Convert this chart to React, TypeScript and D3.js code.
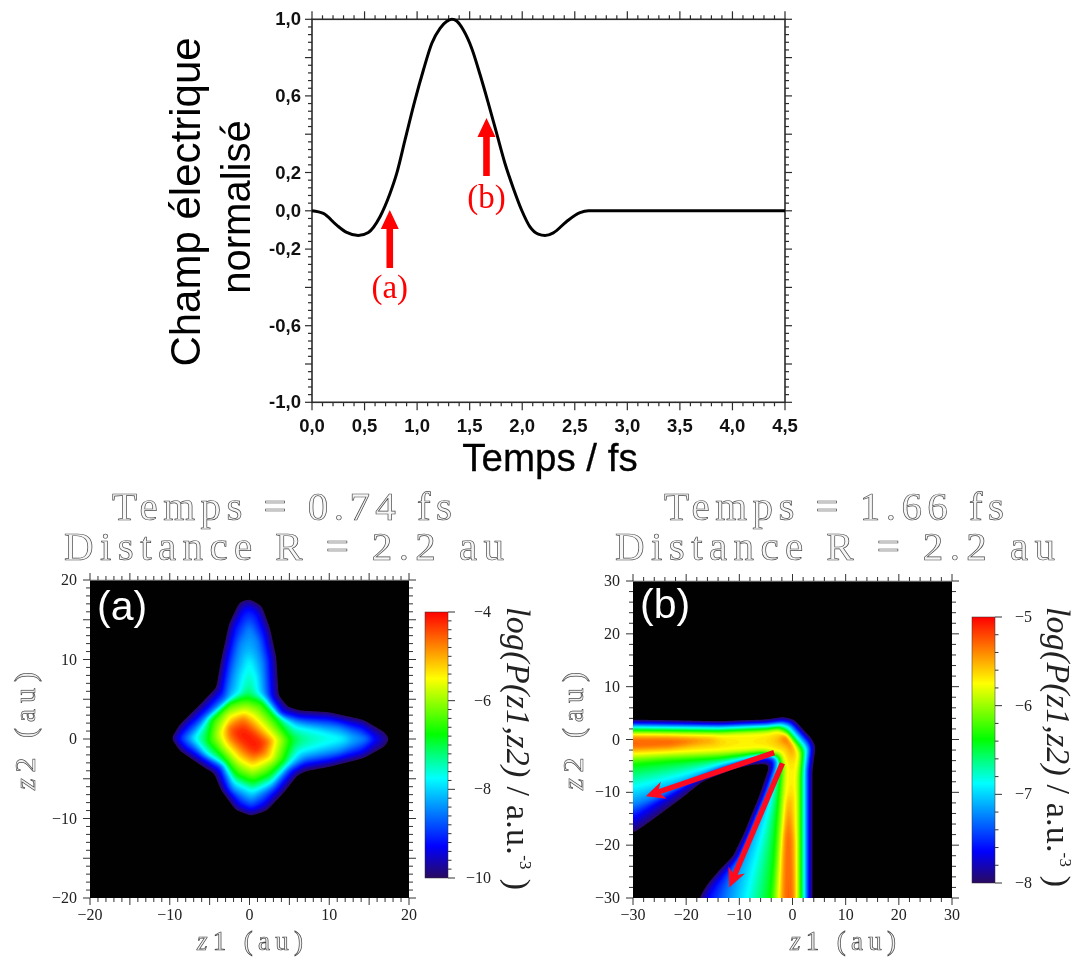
import React, { useMemo } from "react";
import * as d3 from "d3";

type P = [number, number];

// Top chart: normalised electric field
const pulseTime = [0, .108, .235, .33, .44, .536, .647, .742, .806, .885, .98, 1.06, 1.14, 1.218, 1.28, 1.33, 1.376, 1.44, 1.52, 1.6, 1.678, 1.757, 1.836, 1.916, 1.995, 2.074, 2.153, 2.217, 2.296, 2.42, 2.55, 2.63, 4.5];
const pulseField = [0, -.014, -.075, -.113, -.129, -.113, -.031, .09, .195, .37, .578, .735, .875, .953, .988, 1, .991, .944, .848, .709, .561, .404, .247, .117, .003, -.084, -.122, -.129, -.115, -.057, -.01, 0, 0];
const pulseXLabels = ["0,0", "0,5", "1,0", "1,5", "2,0", "2,5", "3,0", "3,5", "4,0", "4,5"];
const pulseYLabels: [number, string][] = [[1, "1,0"], [.6, "0,6"], [.2, "0,2"], [0, "0,0"], [-.2, "-0,2"], [-.6, "-0,6"], [-1, "-1,0"]];
const markerTimes = [0.74, 1.66];

// Colour map, from the colour bars (0 = bottom, 1 = top)
const cmapStops = [0, .12, .25, .375, .46, .54, .75, .875, 1];
const cmapColors = ["#2a0a60", "#0000ff", "#0080ff", "#00ffff", "#00ff80", "#00ff00", "#ffff00", "#ff8000", "#ff0000"];

// Panel (a): iso-lines of the map, in au
const levelsA = [0, .12, .25, .375, .54, .75, .875, .95];
const peakA = .975;
const isoA0: P[] = [[0, 17.6], [1.5, 16.75], [2.5, 14], [3.3, 10.3], [3.6, 5.5], [4.8, 4], [6.25, 3.55], [10, 3.3], [14.2, 2.4], [16.9, .9], [17.6, 0], [16.9, -1], [14.2, -2.4], [10, -3.45], [7.1, -4], [6, -4.5], [4.2, -6.8], [2.1, -9], [.2, -9.6], [-1.7, -8.9], [-3.5, -6.4], [-4.4, -4.3], [-5.8, -3.45], [-8.75, -1.4], [-9.7, .1], [-8.75, 1.75], [-6.25, 4.25], [-4.1, 6.5], [-3.5, 9.9], [-2.5, 14.5], [-1.25, 17.2]];
const isoA1: P[] = [[0, 16.5], [1, 15.7], [1.9, 13.2], [2.6, 9.9], [2.8, 5.3], [4.2, 3.4], [6.25, 2.8], [10, 2.6], [14.2, 1.5], [16, 0], [14.2, -1.6], [10, -2.7], [6.7, -3.25], [5.4, -4.1], [3.5, -6.4], [1.7, -8.25], [.2, -8.9], [-1.25, -8.25], [-2.9, -6.2], [-3.75, -3.9], [-5.4, -2.8], [-8.1, -1], [-9, .1], [-7.9, 1.5], [-5.6, 3.6], [-3.5, 5.9], [-2.9, 9.5], [-1.9, 14], [-.8, 16.1]];
const isoA2: P[] = [[0, 14], [1, 12.4], [1.7, 9.5], [2, 5.7], [3.75, 2.8], [7.1, 2], [11.25, 1.5], [14.6, 0], [11.25, -1.6], [7.1, -2.4], [4.8, -3.7], [2.9, -6], [.2, -7.8], [-2.1, -6.4], [-3.5, -3.25], [-5.8, -2], [-7.9, .1], [-5.4, 2.8], [-2.9, 5.1], [-2.1, 8.6], [-1.25, 12]];
const isoA3: P[] = [[0, 9.7], [.8, 7.8], [1, 5.9], [3.3, 3.4], [5.8, 1.5], [8.75, .9], [11.7, 0], [8.75, -.9], [6.25, -1.6], [4.6, -3.5], [2.7, -5.5], [.4, -6.6], [-1.9, -5.5], [-3.1, -3.25], [-5.2, -2], [-6.9, .1], [-5.2, 2.6], [-2.9, 4.5], [-1.2, 5.9], [-.8, 7.8]];
const isoA4: P[] = [[-.4, 5.2], [1.5, 4.7], [3.3, 2.6], [5.2, -.1], [4.4, -2.6], [2.5, -4.5], [.4, -5.4], [-1.7, -4.5], [-3.3, -2.4], [-5.2, -.3], [-4.8, 2.4], [-2.5, 4.7]];
const isoA5: P[] = [[-.6, 3.4], [.6, 2.8], [3.3, -.1], [2.7, -2.4], [.4, -3.5], [-1.25, -2.6], [-2.9, -.75], [-3.5, .7], [-2.5, 2.8]];
const isoA6: P[] = [[-.8, 2.6], [.2, 1.75], [2.5, -.3], [1.9, -1.8], [.4, -2.4], [-.8, -1.6], [-2.5, .1], [-2.7, 1.5]];
const isoA7: P[] = [[-.8, 1.5], [.4, .7], [1.7, -.5], [1, -1.6], [.2, -1.4], [-1.25, -.1], [-1.9, .9]];

// Panel (b): iso-lines (the arms run on past the frame)
const levelsB = [0, .12, .25, .375, .54, .75, .84];
const peakB = .915;
const isoB0: P[] = [[-60, 3.5], [-30, 3.5], [-13.6, 3.1], [-4.8, 3.5], [-1.7, 4], [.2, 3.6], [3.6, -.2], [4.1, -1.4], [3.5, -5.8], [3.5, -30], [3.5, -60], [-36, -60], [-17.5, -30], [-16, -27.5], [-13.6, -24.7], [-11.1, -22.2], [-8.9, -17.8], [-6.1, -10.9], [-4.2, -5.2], [-4.5, -4.5], [-7.4, -4.5], [-11.1, -5.3], [-16.8, -7.7], [-20.6, -10.9], [-25.6, -14.7], [-28.1, -16.5], [-30, -17.8], [-60, -36]];
const isoB1: P[] = [[-60, 3.1], [-30, 3.1], [-13.6, 2.9], [-4.8, 3.2], [-1.8, 3.6], [-.1, 3.1], [3.1, -.3], [3.6, -1.6], [3.1, -5.8], [3.1, -30], [3.1, -60], [-34, -60], [-16, -30], [-14.6, -27.5], [-12.4, -24.7], [-10.2, -22.2], [-8.3, -17.8], [-5.5, -10.9], [-3.7, -5.8], [-3.6, -4.3], [-4.8, -3.8], [-7.4, -4], [-11.1, -4.9], [-16.8, -6.8], [-20.6, -9], [-25.6, -12.1], [-28.1, -13.7], [-30, -15], [-60, -30]];
const isoB2: P[] = [[-60, 2.7], [-30, 2.8], [-13.6, 2.6], [-4.8, 2.9], [-2, 3.2], [-.4, 2.8], [2.6, -.6], [3.1, -1.7], [2.6, -5.8], [2.6, -30], [2.6, -60], [-28, -60], [-12.4, -30], [-11.1, -24.7], [-9.2, -20.3], [-7, -14.7], [-4.8, -9.6], [-3.3, -5.2], [-3.1, -3.6], [-4.5, -3], [-7.4, -3.5], [-13.6, -5.5], [-19.9, -8.4], [-25.6, -10.9], [-30, -12.5], [-60, -25]];
const isoB3: P[] = [[-60, 2.3], [-30, 2.3], [-13.6, 2.1], [-4.8, 2.5], [-2.2, 2.8], [-.8, 2.3], [2.1, -1.1], [2.6, -1.9], [2.2, -5.8], [2.2, -30], [2.2, -60], [-18, -60], [-8.6, -30], [-7.4, -24.7], [-5.8, -18.4], [-4.2, -12.1], [-3, -6.5], [-2.5, -4], [-3.6, -2.8], [-7.4, -3.2], [-13.6, -4.6], [-21.2, -6.8], [-27.5, -8.4], [-30, -9], [-60, -15]];
const isoB4: P[] = [[-60, 1.8], [-30, 1.8], [-13.6, 1.6], [-4.8, 2], [-2.5, 2.3], [-1.1, 1.7], [1.5, -1.4], [1.9, -2.4], [1.6, -7.1], [1.6, -30], [1.6, -60], [-7, -60], [-4.1, -30], [-3.5, -23.5], [-3, -15.9], [-2.5, -9.6], [-2.1, -5.2], [-2.8, -3.2], [-6.1, -2.5], [-13.6, -3.5], [-23.1, -4.1], [-30, -4.7], [-60, -6]];
const isoB5: P[] = [[-60, 1], [-30, 1], [-13.6, .9], [-4.8, 1.3], [-2.8, 1.7], [-1.6, .9], [.8, -1.8], [1.2, -3], [.8, -7.1], [.8, -30], [.8, -60], [-3, -60], [-2.5, -30], [-2.2, -23.5], [-1.7, -15.9], [-1.3, -9], [-1.2, -5.2], [-1.9, -2.6], [-4.8, -1.8], [-13.6, -2.1], [-23.1, -2.4], [-30, -2.7], [-60, -3]];
const isoB6Left: P[] = [[-60, .6], [-30, .55], [-23.1, .5], [-15, -.1], [-23.1, -1.6], [-30, -1.9], [-60, -1.9]];
const isoB6Bottom: P[] = [[-1.8, -19], [-.8, -11.5], [.2, -19], [.5, -30], [.5, -60], [-2.2, -60], [-2, -30]];
const isoB6Corner: P[] = [[-1.7, 1.1], [-.8, .8], [.2, -1.1], [.1, -2.7], [-.9, -1.1], [-2.3, -.2]];

// Arrows drawn over panel (b): start, tip, in au
const arrowStartsB: P[] = [[-3.46, -2.5], [-1.9, -4.5]];
const arrowTipsB: P[] = [[-27.6, -10.75], [-11.9, -28]];

const labelsA = [-20, -10, 0, 10, 20];
const labelsB = [-30, -20, -10, 0, 10, 20, 30];
const barLabelsA = [-4, -6, -8, -10];
const barLabelsB = [-5, -6, -7, -8];

const SANS = "'Liberation Sans', Arial, sans-serif";
const SERIF = "'Liberation Serif', 'Times New Roman', serif";
const INK = "#2b2b2b";
const minus = (v: number) => (v < 0 ? "\u2212" + Math.abs(v) : String(v));
const rng = (a: number, b: number, s: number) => d3.range(Math.round((b - a) / s) + 1).map((i) => +(a + i * s).toFixed(4));

const cmap = d3.scaleLinear<string>().domain(cmapStops).range(cmapColors).interpolate(d3.interpolateRgb).clamp(true);

function segDist(p: P, a: P, b: P) {
  const dx = b[0] - a[0], dy = b[1] - a[1];
  const t = Math.max(0, Math.min(1, ((p[0] - a[0]) * dx + (p[1] - a[1]) * dy) / (dx * dx + dy * dy || 1)));
  return Math.hypot(p[0] - a[0] - t * dx, p[1] - a[1] - t * dy);
}
function ringsDist(p: P, rings: P[][]) {
  let m = Infinity;
  for (const r of rings) for (let i = 0; i < r.length; i++) {
    const d = segDist(p, r[i], r[(i + 1) % r.length]);
    if (d < m) m = d;
  }
  return m;
}

function buildLayers(levels: number[], iso: P[][][], peak: number, lim: number, x0: number, y0: number, w: number, h: number) {
  const n = 200;
  const values = new Float64Array(n * n);
  const ppa = w / (2 * lim);
  for (let j = 0; j < n; j++) for (let i = 0; i < n; i++) {
    const p: P = [-lim + ((i + .5) / n) * 2 * lim, lim - ((j + .5) / n) * 2 * lim];
    let k = -1;
    for (let l = levels.length - 1; l >= 0; l--) {
      if (iso[l].some((r) => d3.polygonContains(r, p))) { k = l; break; }
    }
    let v: number;
    if (k < 0) v = -.012 * ringsDist(p, iso[0]) * ppa - .001;
    else if (k === levels.length - 1) {
      const d = ringsDist(p, iso[k]) * ppa;
      v = levels[k] + (peak - levels[k]) * (1 - Math.exp(-d / 2.5));
    } else {
      const a = ringsDist(p, iso[k]), b = ringsDist(p, iso[k + 1]);
      v = levels[k] + (levels[k + 1] - levels[k]) * (a / (a + b));
    }
    values[i + j * n] = v;
  }
  const blur = (d3 as any).blur2;
  if (blur) blur({ data: values, width: n, height: n }, 1);
  const steps = 90;
  const thresholds = d3.range(steps).map((i) => i / steps);
  const cs = d3.contours().size([n, n]).smooth(true).thresholds(thresholds)(Array.from(values));
  const cw = w / n, ch = h / n;
  const path = d3.geoPath(d3.geoTransform({
    point(this: any, x: number, y: number) { this.stream.point(x0 + x * cw, y0 + y * ch); },
  }));
  return cs.map((c) => ({ d: path(c as any) || "", fill: cmap(c.value + .5 / steps) }));
}

function Hollow({ x, y, len, size, children }: any) {
  return (
    <text x={x} y={y} fontFamily={SERIF} fontSize={size} fill="#f6f6f6" stroke="#4a4a4a" strokeWidth={.7}
      textLength={len} lengthAdjust="spacing">{children}</text>
  );
}

function HeatPanel({ x0, y0, w, h, lim, major, minor, labels, layers, tag, tagY, barX, barTop, barBot, barDomain, barLabels, barStep, barLabelX, titleX, time, distX, zxX, zyX, logX, logLen, gid, children }: any) {
  const x = d3.scaleLinear().domain([-lim, lim]).range([x0, x0 + w]);
  const y = d3.scaleLinear().domain([-lim, lim]).range([y0 + h, y0]);
  const by = d3.scaleLinear().domain(barDomain).range([barBot, barTop]);
  const minors = rng(-lim, lim, minor);
  const majors = rng(-lim, lim, major);
  const tickColor = "#333";
  return (
    <g>
      <Hollow x={titleX} y={520} len={340} size={41}>{`Temps = ${time} fs`}</Hollow>
      <Hollow x={distX} y={560} len={440} size={41}>Distance R = 2.2 au</Hollow>
      <defs>
        <linearGradient id={gid} x1="0" x2="0" y1="1" y2="0">
          {cmapStops.map((s, i) => <stop key={i} offset={s} stopColor={cmapColors[i]} />)}
        </linearGradient>
        <clipPath id={gid + "c"}><rect x={x0} y={y0} width={w} height={h} /></clipPath>
      </defs>
      <rect x={x0} y={y0} width={w} height={h} fill="#000" />
      <g clipPath={`url(#${gid}c)`}>
        {layers.map((l: any, i: number) => <path key={i} d={l.d} fill={l.fill} />)}
      </g>
      <line x1={x0} x2={x0 + w} y1={y0} y2={y0} stroke="#b0b0b0" strokeWidth={1} />
      {minors.map((v) => {
        const m = majors.includes(v);
        const t = m ? 7 : 4;
        return (
          <g key={v} stroke={tickColor} strokeWidth={1}>
            <line x1={x(v)} x2={x(v)} y1={y0 + h} y2={y0 + h + t} />
            <line x1={x(v)} x2={x(v)} y1={y0} y2={y0 - t} />
            <line x1={x0} x2={x0 - t} y1={y(v)} y2={y(v)} />
            <line x1={x0 + w} x2={x0 + w + t} y1={y(v)} y2={y(v)} />
          </g>
        );
      })}
      {labels.map((v: number) => (
        <g key={v} fontFamily={SERIF} fontSize={16} fill="#222">
          <text x={x(v)} y={y0 + h + 22} textAnchor="middle">{minus(v)}</text>
          <text x={x0 - 13} y={y(v) + 5} textAnchor="end">{minus(v)}</text>
        </g>
      ))}
      <text x={x0 + 7} y={tagY} fontFamily={SANS} fontSize={41} fill="#fff">{tag}</text>
      {children && children(x, y)}
      <rect x={barX} y={barTop} width={23} height={barBot - barTop} fill={`url(#${gid})`} stroke="#333" strokeWidth={.5} />
      {rng(barDomain[0], barDomain[1], barStep).map((v) => {
        const m = barLabels.includes(v);
        return <line key={v} x1={barX + 23} x2={barX + 23 + (m ? 7 : 3.5)} y1={by(v)} y2={by(v)} stroke="#333" />;
      })}
      {barLabels.map((v: number) => (
        <text key={v} x={barLabelX} y={by(v) + 5} textAnchor="end" fontFamily={SERIF} fontSize={16} fill="#222">{minus(v)}</text>
      ))}
      <text x={zxX} y={950} fontFamily={SERIF} fontSize={27} fill="#f0f0f0" stroke="#444" strokeWidth={.7} textLength={106} lengthAdjust="spacing">
        <tspan fontStyle="italic">z</tspan>1 (au)
      </text>
      <g transform={`translate(${zyX} 790) rotate(-90)`}>
        <text x={0} y={0} fontFamily={SERIF} fontSize={30} fill="#f0f0f0" stroke="#444" strokeWidth={.7} textLength={118} lengthAdjust="spacing">
          <tspan fontStyle="italic">z</tspan>2 (au)
        </text>
      </g>
      <g transform={`translate(${logX} 607) rotate(90)`}>
        <text x={0} y={0} fontFamily={SERIF} fontSize={34} fill="#222" textLength={logLen} lengthAdjust="spacing">
          <tspan fontStyle="italic">log(P(z1,z2)</tspan> / a.u.<tspan dy={-13} fontSize={17}>-3</tspan><tspan dy={13}> )</tspan>
        </text>
      </g>
    </g>
  );
}

function RedBlockArrow({ x, y1, y2, label, labelY }: any) {
  // y1: tail pixel, y2: tip pixel
  const head = 19, half = 9, shaft = 3.3;
  const d = d3.line()([
    [x - shaft, y1], [x - shaft, y2 + head], [x - half, y2 + head], [x, y2],
    [x + half, y2 + head], [x + shaft, y2 + head], [x + shaft, y1],
  ] as any) + "Z";
  return (
    <g>
      <path d={d} fill="#ff0000" />
      <text x={x} y={labelY} textAnchor="middle" fontFamily={SERIF} fontSize={33} fill="#ff0000">{label}</text>
    </g>
  );
}

function SlimArrow({ a, b }: { a: P; b: P }) {
  const ang = Math.atan2(b[1] - a[1], b[0] - a[0]);
  const ux = Math.cos(ang), uy = Math.sin(ang);
  const len = 17, half = 9;
  const base: P = [b[0] - ux * len, b[1] - uy * len];
  const tri = d3.line()([b, [base[0] - uy * half - ux * 2, base[1] + ux * half - uy * 2], [b[0] - ux * 13, b[1] - uy * 13], [base[0] + uy * half - ux * 2, base[1] - ux * half - uy * 2]] as any) + "Z";
  return (
    <g>
      <line x1={a[0]} y1={a[1]} x2={b[0] - ux * 11} y2={b[1] - uy * 11} stroke="#ff0a1e" strokeWidth={5.5} />
      <path d={tri} fill="#ff0a1e" />
    </g>
  );
}

export default function App() {
  const layersA = useMemo(() => buildLayers(levelsA, [[isoA0], [isoA1], [isoA2], [isoA3], [isoA4], [isoA5], [isoA6], [isoA7]], peakA, 20, 90, 580, 319, 318), []);
  const layersB = useMemo(() => buildLayers(levelsB, [[isoB0], [isoB1], [isoB2], [isoB3], [isoB4], [isoB5], [isoB6Left, isoB6Bottom, isoB6Corner]], peakB, 30, 633, 581, 319, 317), []);

  const px = d3.scaleLinear().domain([0, 4.5]).range([312, 785]);
  const py = d3.scaleLinear().domain([-1, 1]).range([402.3, 19.3]);
  const pulse = d3.line<number>().x((t) => px(t)).y((_, i) => py(pulseField[i])).curve(d3.curveMonotoneX)(pulseTime) || "";
  const xMajor = rng(0, 4.5, .5);
  const yMajor = rng(-1, 1, .2);

  return (
    <svg width={1082} height={960} viewBox="0 0 1082 960" style={{ position: "absolute", left: 0, top: 0, display: "block" }}>
      <rect width={1082} height={960} fill="#fff" />
      <g opacity={0.999}>
        {/* Top chart */}
        <g stroke={INK} strokeWidth={1.2}>
          {rng(0, 4.5, .1).map((v) => {
            const t = xMajor.includes(v) ? 8 : 4;
            return <g key={v}><line x1={px(v)} x2={px(v)} y1={402.3} y2={402.3 + t} /><line x1={px(v)} x2={px(v)} y1={19.3} y2={19.3 - t} /></g>;
          })}
          {rng(-1, 1, .04).map((v) => {
            const t = yMajor.includes(v) ? 7 : 4;
            return <g key={v}><line x1={312} x2={312 - t} y1={py(v)} y2={py(v)} /><line x1={785} x2={785 + t} y1={py(v)} y2={py(v)} /></g>;
          })}
        </g>
        <rect x={312} y={19.3} width={473} height={383} fill="none" stroke={INK} strokeWidth={1.6} />
        <path d={pulse} fill="none" stroke="#000" strokeWidth={3} />
        {pulseXLabels.map((l, i) => (
          <text key={l} x={px(i * .5)} y={432} textAnchor="middle" fontFamily={SANS} fontWeight={700} fontSize={18.5} fill="#111">{l}</text>
        ))}
        {pulseYLabels.map(([v, l]) => (
          <text key={l} x={301} y={py(v) + 6} textAnchor="end" fontFamily={SANS} fontWeight={700} fontSize={18.5} fill="#111">{l}</text>
        ))}
        <text x={550} y={471} textAnchor="middle" fontFamily={SANS} fontSize={38.5} fill="#000" stroke="#000" strokeWidth={.3}>Temps / fs</text>
        <text transform="translate(200 202) rotate(-90)" textAnchor="middle" fontFamily={SANS} fontSize={42} fill="#000">Champ électrique</text>
        <text transform="translate(250 207) rotate(-90)" textAnchor="middle" fontFamily={SANS} fontSize={40} fill="#000">normalisé</text>
        <RedBlockArrow x={px(markerTimes[0])} y1={268} y2={210} label="(a)" labelY={298} />
        <RedBlockArrow x={px(markerTimes[1])} y1={176} y2={118} label="(b)" labelY={208} />

        <HeatPanel x0={90} y0={580} w={319} h={318} lim={20} major={5} minor={1} labels={labelsA} layers={layersA} tag="(a)" tagY={620}
          barX={425} barTop={612} barBot={878} barDomain={[-10, -4]} barLabels={barLabelsA} barStep={.2} barLabelX={491}
          titleX={112} time="0.74" distX={64} zxX={197} zyX={35} logX={507} logLen={283} gid="ga" />
        <HeatPanel x0={633} y0={581} w={319} h={317} lim={30} major={10} minor={2} labels={labelsB} layers={layersB} tag="(b)" tagY={618}
          barX={972} barTop={617} barBot={883} barDomain={[-8, -5]} barLabels={barLabelsB} barStep={.2} barLabelX={1032}
          titleX={664} time="1.66" distX={615} zxX={790} zyX={583} logX={1047} logLen={280} gid="gb">
          {(x: any, y: any) => arrowStartsB.map((s, i) => (
            <SlimArrow key={i} a={[x(s[0]), y(s[1])]} b={[x(arrowTipsB[i][0]), y(arrowTipsB[i][1])]} />
          ))}
        </HeatPanel>
      </g>
    </svg>
  );
}
